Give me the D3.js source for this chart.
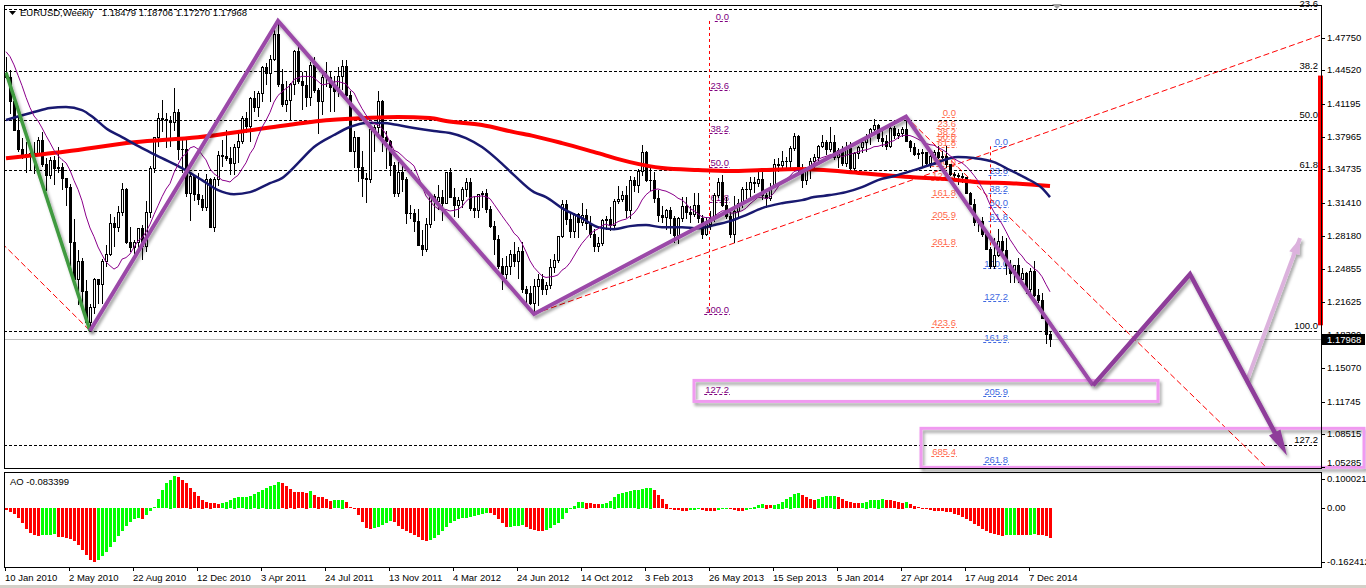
<!DOCTYPE html>
<html><head><meta charset="utf-8">
<script src="https://cdn.jsdelivr.net/npm/d3@7"></script>
<style>body{margin:0;background:#fff}svg{display:block}text{font-family:"Liberation Sans",Arial,sans-serif;font-size:9.5px}</style>
</head><body><svg id="c" width="1366" height="588"></svg>
<script>
// ---------------- DATA ----------------
const symbolTitle = "EURUSD,Weekly";
const weekOpen = [1.4410,1.4382,1.4145,1.3865,1.3675,1.3625,1.3610,1.3630,1.3625,1.3765,
1.3530,1.3415,1.3565,1.3490,1.3495,1.3390,1.3295,1.2755,1.2390,1.2570,
1.2270,1.1965,1.2110,1.2385,1.2340,1.2565,1.2640,1.2940,1.2900,1.3050,
1.3280,1.2750,1.2705,1.2750,1.2890,1.2710,1.3050,1.3490,1.3790,1.3980,
1.3970,1.3960,1.3940,1.4035,1.3675,1.3670,1.3240,1.3410,1.3225,1.3180,
1.3105,1.3380,1.2905,1.3380,1.3615,1.3605,1.3585,1.3535,1.3695,1.3750,
1.3985,1.3905,1.4180,1.4090,1.4230,1.4485,1.4430,1.4565,1.4810,1.4315,
1.4120,1.4155,1.4320,1.4640,1.4350,1.4305,1.4190,1.4505,1.4260,1.4150,
1.4390,1.4390,1.4285,1.4245,1.4395,1.4490,1.4205,1.3655,1.3790,1.3500,
1.3390,1.3380,1.3870,1.3890,1.4150,1.3790,1.3750,1.3520,1.3240,1.3445,
1.3380,1.3040,1.3045,1.2960,1.2720,1.2680,1.2930,1.3210,1.3160,1.3195,
1.3140,1.3445,1.3200,1.3120,1.3170,1.3275,1.3345,1.3095,1.3075,1.3225,
1.3240,1.3085,1.2915,1.2780,1.2515,1.2435,1.2515,1.2640,1.2570,1.2665,
1.2290,1.2245,1.2155,1.2315,1.2385,1.2290,1.2330,1.2510,1.2575,1.2815,
1.3130,1.2980,1.2860,1.3035,1.2955,1.3025,1.2940,1.2835,1.2710,1.2740,
1.2975,1.2985,1.2925,1.3160,1.3180,1.3215,1.3070,1.3365,1.3315,1.3460,
1.3640,1.3365,1.3365,1.3190,1.3020,1.3005,1.3075,1.2990,1.2820,1.2995,
1.3110,1.3050,1.3030,1.3115,1.2990,1.2835,1.2930,1.2995,1.3220,1.3345,
1.3120,1.3010,1.2830,1.3065,1.3140,1.3280,1.3280,1.3345,1.3335,1.3380,
1.3220,1.3185,1.3300,1.3525,1.3520,1.3555,1.3555,1.3685,1.3805,1.3485,
1.3365,1.3500,1.3555,1.3590,1.3705,1.3740,1.3675,1.3740,1.3590,1.3665,
1.3540,1.3680,1.3485,1.3635,1.3695,1.3740,1.3805,1.3875,1.3910,1.3780,
1.3750,1.3705,1.3885,1.3810,1.3835,1.3870,1.3755,1.3695,1.3625,1.3635,
1.3640,1.3540,1.3600,1.3645,1.3590,1.3605,1.3525,1.3430,1.3415,1.3410,
1.3400,1.3240,1.3130,1.2950,1.2960,1.2830,1.2685,1.2515,1.2630,1.2760,
1.2670,1.2525,1.2450,1.2525,1.2390,1.2450,1.2290,1.2465,1.2225,1.2185,
1.2000,1.18479];
const weekHigh = [1.4580,1.4455,1.4220,1.4000,1.3785,1.3740,1.3690,1.3740,1.3790,1.3840,
1.3580,1.3590,1.3600,1.3690,1.3535,1.3390,1.3330,1.2980,1.2670,1.2600,
1.2380,1.2140,1.2400,1.2390,1.2590,1.2720,1.3030,1.3000,1.3110,1.3335,
1.3290,1.2900,1.2770,1.2890,1.2920,1.3160,1.3510,1.3790,1.4030,1.4160,
1.4030,1.4000,1.4282,1.4070,1.3790,1.3790,1.3450,1.3420,1.3440,1.3220,
1.3430,1.3390,1.3395,1.3650,1.3760,1.3860,1.3690,1.3720,1.3830,1.4000,
1.4035,1.4190,1.4250,1.4250,1.4490,1.4520,1.4600,1.4880,1.4940,1.4465,
1.4345,1.4330,1.4650,1.4700,1.4440,1.4440,1.4530,1.4580,1.4280,1.4440,
1.4530,1.4450,1.4400,1.4480,1.4550,1.4550,1.4250,1.3850,1.3790,1.3650,
1.3440,1.3900,1.3915,1.4247,1.4160,1.3850,1.3760,1.3550,1.3550,1.3550,
1.3400,1.3120,1.3080,1.3080,1.2870,1.2990,1.3230,1.3230,1.3320,1.3270,
1.3450,1.3485,1.3290,1.3200,1.3300,1.3385,1.3385,1.3210,1.3225,1.3260,
1.3280,1.3110,1.2960,1.2820,1.2600,1.2620,1.2670,1.2750,1.2700,1.2750,
1.2320,1.2320,1.2390,1.2440,1.2440,1.2360,1.2590,1.2640,1.2815,1.3170,
1.3170,1.3050,1.3040,1.3040,1.3140,1.3080,1.3010,1.2880,1.2800,1.2980,
1.3010,1.3100,1.3175,1.3310,1.3260,1.3310,1.3405,1.3400,1.3480,1.3710,
1.3650,1.3485,1.3445,1.3270,1.3110,1.3080,1.3100,1.3010,1.3000,1.3200,
1.3200,1.3110,1.3240,1.3240,1.3020,1.3000,1.3060,1.3240,1.3390,1.3415,
1.3200,1.3090,1.3210,1.3180,1.3300,1.3350,1.3400,1.3400,1.3450,1.3450,
1.3240,1.3340,1.3570,1.3580,1.3650,1.3590,1.3700,1.3830,1.3810,1.3530,
1.3500,1.3580,1.3620,1.3710,1.3810,1.3760,1.3893,1.3815,1.3680,1.3700,
1.3740,1.3740,1.3640,1.3700,1.3770,1.3825,1.3880,1.3967,1.3925,1.3880,
1.3810,1.3905,1.3905,1.3870,1.3890,1.3993,1.3760,1.3735,1.3670,1.3670,
1.3645,1.3615,1.3660,1.3700,1.3650,1.3700,1.3530,1.3445,1.3440,1.3440,
1.3400,1.3250,1.3180,1.2990,1.3000,1.2870,1.2700,1.2790,1.2885,1.2810,
1.2790,1.2575,1.2530,1.2600,1.2500,1.2460,1.2500,1.2570,1.2290,1.2250,
1.2010,1.18706];
const weekLow = [1.4375,1.4030,1.3860,1.3650,1.3580,1.3443,1.3480,1.3435,1.3610,1.3505,
1.3266,1.3390,1.3330,1.3450,1.3280,1.3115,1.2523,1.2350,1.2145,1.2145,
1.1960,1.1876,1.2050,1.2150,1.2150,1.2520,1.2630,1.2710,1.2860,1.3020,
1.2740,1.2660,1.2590,1.2660,1.2590,1.2660,1.3000,1.3450,1.3700,1.3850,
1.3695,1.3700,1.3860,1.3570,1.3450,1.3210,1.2970,1.3170,1.3130,1.3070,
1.3070,1.2900,1.2860,1.3320,1.3510,1.3560,1.3430,1.3430,1.3550,1.3730,
1.3840,1.3750,1.4050,1.4000,1.4150,1.4320,1.4150,1.4550,1.4300,1.4100,
1.4050,1.3970,1.4220,1.4330,1.4070,1.4100,1.4110,1.4240,1.3835,1.4020,
1.4300,1.4050,1.4050,1.4200,1.4270,1.4180,1.3655,1.3495,1.3360,1.3210,
1.3145,1.3350,1.3650,1.3830,1.3650,1.3485,1.3420,1.3210,1.3210,1.3260,
1.2945,1.2990,1.2860,1.2720,1.2624,1.2660,1.2900,1.2975,1.3080,1.2975,
1.3140,1.3200,1.3010,1.3000,1.3100,1.3210,1.3070,1.3000,1.3000,1.3100,
1.3050,1.2900,1.2640,1.2495,1.2290,1.2400,1.2440,1.2520,1.2400,1.2260,
1.2160,1.2140,1.2042,1.2130,1.2240,1.2240,1.2300,1.2460,1.2560,1.2800,
1.2930,1.2800,1.2800,1.2800,1.2920,1.2880,1.2800,1.2660,1.2660,1.2720,
1.2880,1.2870,1.2880,1.3140,1.3160,1.3000,1.2995,1.3260,1.3250,1.3420,
1.3360,1.3270,1.3145,1.2960,1.2955,1.2880,1.2840,1.2750,1.2745,1.2960,
1.2995,1.2950,1.3010,1.2950,1.2795,1.2820,1.2880,1.2960,1.3200,1.3110,
1.2990,1.2805,1.2755,1.3010,1.3100,1.3190,1.3210,1.3250,1.3310,1.3180,
1.3100,1.3170,1.3300,1.3460,1.3480,1.3480,1.3490,1.3660,1.3460,1.3295,
1.3330,1.3390,1.3500,1.3540,1.3690,1.3625,1.3650,1.3570,1.3500,1.3520,
1.3510,1.3480,1.3475,1.3580,1.3640,1.3650,1.3720,1.3860,1.3750,1.3700,
1.3670,1.3690,1.3780,1.3780,1.3800,1.3750,1.3650,1.3615,1.3585,1.3500,
1.3520,1.3500,1.3580,1.3580,1.3580,1.3500,1.3420,1.3370,1.3330,1.3350,
1.3240,1.3125,1.2920,1.2860,1.2815,1.2680,1.2500,1.2500,1.2620,1.2610,
1.2440,1.2360,1.2360,1.2360,1.2390,1.2245,1.2245,1.2220,1.2165,1.2000,
1.1755,1.17270];
const weekClose = [1.4382,1.4145,1.3865,1.3675,1.3625,1.3610,1.3630,1.3625,1.3765,1.3530,
1.3415,1.3565,1.3490,1.3495,1.3390,1.3295,1.2755,1.2390,1.2570,1.2270,
1.1965,1.2110,1.2385,1.2340,1.2565,1.2640,1.2940,1.2900,1.3050,1.3280,
1.2750,1.2705,1.2750,1.2890,1.2710,1.3050,1.3490,1.3790,1.3980,1.3970,
1.3960,1.3940,1.4035,1.3675,1.3670,1.3240,1.3410,1.3225,1.3180,1.3105,
1.3380,1.2905,1.3380,1.3615,1.3605,1.3585,1.3535,1.3695,1.3750,1.3985,
1.3905,1.4180,1.4090,1.4230,1.4485,1.4430,1.4565,1.4810,1.4315,1.4120,
1.4155,1.4320,1.4640,1.4350,1.4305,1.4190,1.4505,1.4260,1.4150,1.4390,
1.4390,1.4285,1.4245,1.4395,1.4490,1.4205,1.3655,1.3790,1.3500,1.3390,
1.3380,1.3870,1.3890,1.4150,1.3790,1.3750,1.3520,1.3240,1.3445,1.3380,
1.3040,1.3045,1.2960,1.2720,1.2680,1.2930,1.3210,1.3160,1.3195,1.3140,
1.3445,1.3200,1.3120,1.3170,1.3275,1.3345,1.3095,1.3075,1.3225,1.3240,
1.3085,1.2915,1.2780,1.2515,1.2435,1.2515,1.2640,1.2570,1.2665,1.2290,
1.2245,1.2155,1.2315,1.2385,1.2290,1.2330,1.2510,1.2575,1.2815,1.3130,
1.2980,1.2860,1.3035,1.2955,1.3025,1.2940,1.2835,1.2710,1.2740,1.2975,
1.2985,1.2925,1.3160,1.3180,1.3215,1.3070,1.3365,1.3315,1.3460,1.3640,
1.3365,1.3365,1.3190,1.3020,1.3005,1.3075,1.2990,1.2820,1.2995,1.3110,
1.3050,1.3030,1.3115,1.2990,1.2835,1.2930,1.2995,1.3220,1.3345,1.3120,
1.3010,1.2830,1.3065,1.3140,1.3280,1.3280,1.3345,1.3335,1.3380,1.3220,
1.3185,1.3300,1.3525,1.3520,1.3555,1.3555,1.3685,1.3805,1.3485,1.3365,
1.3500,1.3555,1.3590,1.3705,1.3740,1.3675,1.3740,1.3590,1.3665,1.3540,
1.3680,1.3485,1.3635,1.3695,1.3740,1.3805,1.3875,1.3910,1.3780,1.3750,
1.3705,1.3885,1.3810,1.3835,1.3870,1.3755,1.3695,1.3625,1.3635,1.3640,
1.3540,1.3600,1.3645,1.3590,1.3605,1.3525,1.3430,1.3415,1.3410,1.3400,
1.3240,1.3130,1.2950,1.2960,1.2830,1.2685,1.2515,1.2630,1.2760,1.2670,
1.2525,1.2450,1.2525,1.2390,1.2450,1.2290,1.2465,1.2225,1.2185,1.2000,
1.1840,1.17968];
// closes of the 11 weeks before the first visible bar (warm-up for the 12-week SMA)
const closesBefore = [1.4720,1.4855,1.4905,1.4860,1.4995,1.4850,1.4620,1.4340,1.4370,1.4325,1.4410];
const smaPeriod = 12;

// slow moving averages (week index, price)
const navyWeek = [0,7,11,15,19,22,25,29,34,39,44,49,53,57,61,66,69,73,77,82,86,90,94,98,102,107,111,115,119,123,127,132,135,139,144,148,152,156,160,164,169,173,177,181,185,189,194,199,202,206,210,214,218,222,227,231,238,242,247,251,255,259,261];
const navyPrice = [1.3960,1.4039,1.4079,1.4089,1.4059,1.3980,1.3880,1.3792,1.3683,1.3584,1.3485,1.3366,1.3267,1.3227,1.3247,1.3336,1.3386,1.3534,1.3693,1.3812,1.3891,1.3931,1.3931,1.3911,1.3881,1.3851,1.3832,1.3782,1.3693,1.3564,1.3416,1.3247,1.3198,1.3089,1.2990,1.2901,1.2881,1.2911,1.2921,1.2901,1.2901,1.2891,1.2921,1.2960,1.3020,1.3089,1.3138,1.3168,1.3198,1.3218,1.3247,1.3297,1.3366,1.3406,1.3465,1.3515,1.3594,1.3584,1.3544,1.3465,1.3386,1.3287,1.3198];
const redWeek = [0,15,32,48,65,81,90,98,106,110,119,127,132,139,148,156,164,173,181,189,198,214,226,235,243,251,261];
const redPrice = [1.3583,1.3650,1.3740,1.3790,1.3881,1.3960,1.3980,1.3990,1.3980,1.3950,1.3911,1.3841,1.3801,1.3732,1.3633,1.3544,1.3485,1.3465,1.3455,1.3465,1.3475,1.3435,1.3396,1.3376,1.3346,1.3336,1.3307];

// Awesome Oscillator
const aoValues = [-0.0064,-0.0110,-0.0165,-0.0275,-0.0403,-0.0569,-0.0679,-0.0752,-0.0761,-0.0752,
-0.0743,-0.0734,-0.0724,-0.0789,-0.0807,-0.0816,-0.0844,-0.0899,-0.1027,-0.1165,
-0.1302,-0.1431,-0.1504,-0.1449,-0.1330,-0.1210,-0.1082,-0.0945,-0.0779,-0.0624,
-0.0504,-0.0385,-0.0293,-0.0266,-0.0293,-0.0202,-0.0073,0.0037,0.0257,0.0504,
0.0688,0.0789,0.0880,0.0862,0.0779,0.0688,0.0569,0.0440,0.0330,0.0238,
0.0174,0.0156,0.0138,0.0110,0.0138,0.0183,0.0229,0.0293,0.0303,0.0312,
0.0321,0.0348,0.0394,0.0459,0.0504,0.0569,0.0624,0.0651,0.0734,0.0697,
0.0624,0.0532,0.0459,0.0449,0.0440,0.0431,0.0468,0.0358,0.0321,0.0303,
0.0257,0.0211,0.0220,0.0229,0.0238,0.0165,0.0037,-0.0018,-0.0202,-0.0385,
-0.0550,-0.0587,-0.0559,-0.0514,-0.0459,-0.0403,-0.0348,-0.0385,-0.0504,-0.0569,
-0.0642,-0.0697,-0.0752,-0.0807,-0.0871,-0.0899,-0.0880,-0.0825,-0.0734,-0.0624,
-0.0523,-0.0413,-0.0348,-0.0293,-0.0275,-0.0266,-0.0248,-0.0229,-0.0202,-0.0165,
-0.0128,-0.0147,-0.0202,-0.0293,-0.0413,-0.0532,-0.0514,-0.0504,-0.0486,-0.0477,
-0.0532,-0.0578,-0.0614,-0.0624,-0.0633,-0.0596,-0.0550,-0.0477,-0.0413,-0.0303,
-0.0138,-0.0037,0.0073,0.0165,0.0174,0.0156,0.0147,0.0119,0.0110,0.0119,
0.0147,0.0202,0.0321,0.0385,0.0422,0.0449,0.0477,0.0495,0.0514,0.0532,
0.0550,0.0569,0.0504,0.0367,0.0248,0.0128,0.0018,-0.0046,-0.0064,-0.0073,
-0.0083,-0.0064,-0.0046,-0.0018,-0.0046,-0.0073,-0.0083,-0.0092,-0.0055,-0.0028,
-0.0009,-0.0018,-0.0055,-0.0083,-0.0092,-0.0055,-0.0018,0.0046,0.0092,0.0110,
0.0101,0.0092,0.0101,0.0128,0.0183,0.0257,0.0321,0.0385,0.0413,0.0367,
0.0312,0.0257,0.0238,0.0257,0.0303,0.0330,0.0339,0.0348,0.0321,0.0257,
0.0202,0.0165,0.0147,0.0138,0.0147,0.0183,0.0220,0.0229,0.0238,0.0243,
0.0229,0.0220,0.0202,0.0183,0.0156,0.0160,0.0110,0.0073,0.0028,-0.0009,
-0.0037,-0.0055,-0.0073,-0.0083,-0.0092,-0.0101,-0.0119,-0.0165,-0.0202,-0.0248,
-0.0303,-0.0367,-0.0440,-0.0504,-0.0578,-0.0642,-0.0697,-0.0724,-0.0734,-0.0761,
-0.0752,-0.0743,-0.0734,-0.0740,-0.0748,-0.0752,-0.0740,-0.0728,-0.0734,-0.0752,
-0.0780,-0.083399];
const aoAxisTicks = [0.100021, 0, -0.162412];
const aoAxisLabels = ["0.100021", "0.00", "-0.162412"];

// axes
const priceTicks = [1.47750,1.44520,1.41195,1.37965,1.34735,1.31410,1.28180,1.24855,1.21625,1.18300,1.15070,1.11745,1.08515,1.05285];
const dateTickWeeks = [0,16,32,48,64,80,96,112,128,144,160,176,192,208,224,240,256];
const dateTickLabels = ["10 Jan 2010","2 May 2010","22 Aug 2010","12 Dec 2010","3 Apr 2011","24 Jul 2011","13 Nov 2011","4 Mar 2012","24 Jun 2012","14 Oct 2012","3 Feb 2013","26 May 2013","15 Sep 2013","5 Jan 2014","27 Apr 2014","17 Aug 2014","7 Dec 2014"];

// Fibonacci tools
const mainFibHigh = 1.6038, mainFibLow = 1.1876;
const mainFibLevels = [0, 23.6, 38.2, 50, 61.8, 100, 127.2];
const purpleFibHigh = 1.4940, purpleFibLow = 1.2042, purpleFibWeek = 175.75;
const purpleFibLevels = [0, 23.6, 38.2, 50, 61.8, 100, 127.2];
const orangeFibHigh = 1.3993, orangeFibLow = 1.3503;
const orangeFibLevels = [0, 23.6, 38.2, 50, 61.8, 100, 127.2, 161.8, 205.9, 261.8, 423.6, 685.4];
const blueFibHigh = 1.3700, blueFibLow = 1.2501, blueFibWeek = 246;
const blueFibLevels = [0, 23.6, 38.2, 50, 61.8, 100, 127.2, 161.8, 205.9, 261.8];

// drawn objects (week index, price)
const zigWeek = [21, 68, 132, 225, 271.75, 296, 320.25];
const zigPrice = [1.1876, 1.4940, 1.2042, 1.3993, 1.1336, 1.2435, 1.0643];
const greenWeek = [0, 21];
const greenPrice = [1.4430, 1.1876];
const pinkArrowWeek = [310.25, 323.5];
const pinkArrowPrice = [1.1385, 1.2792];
const boxWeeks = [[172, 288], [228.75, 339.5]];
const boxPrices = [[1.1385, 1.1177], [1.0911, 1.0525]];
const trendA = {w: [132, 330], p: [1.2042, 1.4818]};
const trendB = {w: [-1, 21], p: [1.2741, 1.1876]};
const trendC = {w: [225, 322], p: [1.3993, 1.0258]};
const rangeBarPrices = [1.4400, 1.1930];

// ---------------- CHART ----------------
const svg = d3.select('#c');
const plotL = 4, plotR = 1321, mainT = 5, mainB = 468, aoT = 472, aoB = 567;
const x = d3.scaleLinear().domain([0, 329]).range([6, 6 + 4 * 329]);
const y = d3.scaleLinear().domain([1.05285, 1.5098]).range([467, 5]);
const ya = d3.scaleLinear().domain([-0.162412, 0.100021]).range([567, 472]);

svg.append('rect').attr('width', 1366).attr('height', 588).attr('fill', '#fff');
const defs = svg.append('defs');
defs.append('clipPath').attr('id', 'cm').append('rect').attr('x', plotL).attr('y', mainT).attr('width', plotR - plotL).attr('height', mainB - mainT);
defs.append('clipPath').attr('id', 'ca').append('rect').attr('x', plotL).attr('y', aoT).attr('width', plotR - plotL).attr('height', aoB - aoT);
const f = defs.append('filter').attr('id', 'sh').attr('filterUnits', 'userSpaceOnUse').attr('x', 0).attr('y', 0).attr('width', 1366).attr('height', 588);
f.append('feDropShadow').attr('dx', 2).attr('dy', 3).attr('stdDeviation', 1.6).attr('flood-color', '#000').attr('flood-opacity', 0.35);

const main = svg.append('g').attr('clip-path', 'url(#cm)');

// main fib (full width dashed black)
mainFibLevels.forEach(l => {
  const yy = Math.round(y(mainFibHigh - (mainFibHigh - mainFibLow) * l / 100)) + 0.5;
  main.append('line').attr('x1', plotL).attr('x2', plotR - 3).attr('y1', yy).attr('y2', yy)
    .attr('stroke', '#000').attr('stroke-dasharray', '3,2');
});

// small fib tools: labels with dashed underline
function fibTool(hi, lo, levels, rightX, color) {
  levels.forEach(l => {
    const yy = Math.round(y(hi - (hi - lo) * l / 100)) + 0.5;
    const t = main.append('text').attr('x', rightX).attr('y', yy - 2).attr('text-anchor', 'end')
      .attr('fill', color).text(l.toFixed(1));
    const w = t.node().getComputedTextLength();
    main.append('line').attr('x1', rightX - w - 1).attr('x2', rightX + 1).attr('y1', yy).attr('y2', yy)
      .attr('stroke', color).attr('stroke-dasharray', '3,2');
  });
}
fibTool(purpleFibHigh, purpleFibLow, purpleFibLevels, 729, '#800080');
fibTool(orangeFibHigh, orangeFibLow, orangeFibLevels, 956, '#ff6a4d');
fibTool(blueFibHigh, blueFibLow, blueFibLevels, 1008, '#4169e1');
// fib base lines (red dashed)
[[purpleFibWeek, purpleFibHigh, purpleFibLow], [blueFibWeek, blueFibHigh, blueFibLow]].forEach(d => {
  const xx = Math.round(x(d[0])) + 0.5;
  main.append('line').attr('x1', xx).attr('x2', xx).attr('y1', y(d[1])).attr('y2', y(d[2]))
    .attr('stroke', '#ff0000').attr('stroke-dasharray', '3,3');
});

// current price line
const lastClose = weekClose[weekClose.length - 1];
main.append('line').attr('x1', plotL).attr('x2', plotR).attr('y1', Math.round(y(lastClose)) + 0.5).attr('y2', Math.round(y(lastClose)) + 0.5)
  .attr('stroke', '#c0c0c0');

// red dashed trendlines
[trendA, trendB, trendC].forEach(t => {
  main.append('line').attr('x1', x(t.w[0])).attr('y1', y(t.p[0])).attr('x2', x(t.w[1])).attr('y2', y(t.p[1]))
    .attr('stroke', '#ff0000').attr('stroke-width', 1).attr('stroke-dasharray', '6,3');
});

// candles
const cg = main.append('g').attr('shape-rendering', 'crispEdges');
weekClose.forEach((c, i) => {
  const o = weekOpen[i], h = weekHigh[i], l = weekLow[i];
  const cx = Math.round(x(i));
  const yh = Math.round(y(h)), yl = Math.round(y(l));
  cg.append('rect').attr('x', cx).attr('y', yh).attr('width', 1).attr('height', Math.max(1, yl - yh + 1)).attr('fill', '#000');
  const top = Math.round(y(Math.max(o, c))), bot = Math.round(y(Math.min(o, c)));
  const hg = Math.max(0, bot - top);
  cg.append('rect').attr('x', cx - 1).attr('y', top).attr('width', 3).attr('height', hg + 1).attr('fill', '#000');
  if (c > o && hg > 1) cg.append('rect').attr('x', cx).attr('y', top + 1).attr('width', 1).attr('height', hg - 1).attr('fill', '#fff');
});

// moving averages
const allCloses = closesBefore.concat(weekClose);
const smaVals = weekClose.map((c, i) => d3.mean(allCloses.slice(i + closesBefore.length + 1 - smaPeriod, i + closesBefore.length + 1)));
const lineP = d3.line().x(d => x(d[0])).y(d => y(d[1])).curve(d3.curveMonotoneX);
main.append('path').attr('d', lineP(redWeek.map((w, i) => [w, redPrice[i]]))).attr('fill', 'none').attr('stroke', '#ff0000').attr('stroke-width', 4);
main.append('path').attr('d', lineP(navyWeek.map((w, i) => [w, navyPrice[i]]))).attr('fill', 'none').attr('stroke', '#191970').attr('stroke-width', 2.5);
main.append('path').attr('d', d3.line().x(d => x(d[0])).y(d => y(d[1]))(smaVals.map((v, i) => [i, v]))).attr('fill', 'none').attr('stroke', '#8b008b').attr('stroke-width', 1);

// boxes
const objs = svg.append('g');
boxWeeks.forEach((bw, i) => {
  const x0 = x(bw[0]), x1 = x(bw[1]), y0 = y(boxPrices[i][0]), y1 = y(boxPrices[i][1]);
  objs.append('rect').attr('x', x0).attr('y', y0).attr('width', x1 - x0).attr('height', y1 - y0)
    .attr('fill', 'none').attr('stroke', '#f09af0').attr('stroke-width', 3).attr('filter', 'url(#sh)');
});

function arrowHead(g, x1, y1, x2, y2, len, wid, color) {
  const a = Math.atan2(y2 - y1, x2 - x1);
  const bx = x2 - len * Math.cos(a), by = y2 - len * Math.sin(a);
  const px = -Math.sin(a) * wid / 2, py = Math.cos(a) * wid / 2;
  g.append('path').attr('d', `M${x2},${y2}L${bx + px},${by + py}L${bx - px},${by - py}Z`).attr('fill', color);
}

// pink arrow
const pax = pinkArrowWeek.map(x), pay = pinkArrowPrice.map(y);
const pg = objs.append('g').attr('filter', 'url(#sh)');
pg.append('line').attr('x1', pax[0]).attr('y1', pay[0]).attr('x2', pax[1]).attr('y2', pay[1]).attr('stroke', '#dcb2dd').attr('stroke-width', 4);
arrowHead(pg, pax[0], pay[0], pax[1], pay[1], 16, 11, '#dcb2dd');

// green leg
objs.append('path').attr('d', d3.line()(greenWeek.map((w, i) => [x(w), y(greenPrice[i])])))
  .attr('fill', 'none').attr('stroke', '#3f9a3f').attr('stroke-width', 3.5).attr('filter', 'url(#sh)');
// purple zigzag + arrow
const zg = objs.append('g').attr('filter', 'url(#sh)');
const zpts = zigWeek.map((w, i) => [x(w), y(zigPrice[i])]);
zg.append('path').attr('d', d3.line()(zpts.slice(0, 5))).attr('fill', 'none').attr('stroke', '#9b4aa8').attr('stroke-width', 4).attr('stroke-linejoin', 'miter');
const n = zpts.length;
const endA = Math.atan2(zpts[n-1][1]-zpts[n-2][1], zpts[n-1][0]-zpts[n-2][0]);
zg.append('path').attr('d', d3.line()(zpts.slice(4, n - 1).concat([[zpts[n-1][0] - 10*Math.cos(endA), zpts[n-1][1] - 10*Math.sin(endA)]])))
  .attr('fill', 'none').attr('stroke', '#8e3c9a').attr('stroke-width', 4.5);
arrowHead(zg, zpts[n-2][0], zpts[n-2][1], zpts[n-1][0], zpts[n-1][1], 26, 13, '#8e3c9a');

// black fib labels on right
mainFibLevels.forEach(l => {
  const yy = Math.round(y(mainFibHigh - (mainFibHigh - mainFibLow) * l / 100));
  svg.append('text').attr('x', 1318).attr('y', yy - 2).attr('text-anchor', 'end').attr('fill', '#000').text(l.toFixed(1));
});

// red range bar on the right edge
svg.append('rect').attr('x', 1318).attr('y', y(rangeBarPrices[0])).attr('width', 5).attr('height', y(rangeBarPrices[1]) - y(rangeBarPrices[0])).attr('fill', '#ff0000');

// AO histogram
const ao = svg.append('g').attr('clip-path', 'url(#ca)').attr('shape-rendering', 'crispEdges');
aoValues.forEach((v, i) => {
  const up = i > 0 && v > aoValues[i - 1];
  const y0 = ya(0), y1 = ya(v);
  ao.append('rect').attr('x', Math.round(x(i)) - 1).attr('width', 3)
    .attr('y', Math.round(Math.min(y0, y1))).attr('height', Math.max(1, Math.round(Math.abs(y1 - y0))))
    .attr('fill', up ? '#00ff00' : '#ff0000');
});

// frames
const fr = svg.append('g').attr('shape-rendering', 'crispEdges').attr('fill', 'none').attr('stroke', '#000');
fr.append('rect').attr('x', plotL + 0.5).attr('y', mainT + 0.5).attr('width', plotR - plotL).attr('height', mainB - mainT);
fr.append('rect').attr('x', plotL + 0.5).attr('y', aoT + 0.5).attr('width', plotR - plotL).attr('height', aoB - aoT);
svg.append('line').attr('x1', 0).attr('x2', 1366).attr('y1', 586.5).attr('y2', 586.5).attr('stroke', '#d4d0c8').attr('stroke-width', 3);

// price axis
priceTicks.forEach(v => {
  const yy = Math.round(y(v));
  svg.append('line').attr('x1', plotR).attr('x2', plotR + 4).attr('y1', yy + 0.5).attr('y2', yy + 0.5).attr('stroke', '#000');
  svg.append('text').attr('x', 1327).attr('y', Math.min(yy, 463) + 3).attr('fill', '#000').text(v.toFixed(5));
});
// current price tag
const ty = Math.round(y(lastClose));
svg.append('rect').attr('x', 1322).attr('y', ty - 5).attr('width', 43).attr('height', 11).attr('fill', '#000');
svg.append('text').attr('x', 1327).attr('y', ty + 4).attr('fill', '#fff').text(lastClose.toFixed(5));

// AO axis
aoAxisTicks.forEach((v, i) => {
  const yy = Math.round(ya(v));
  const ly = Math.max(aoT + 7, Math.min(aoB - 5, yy));
  svg.append('line').attr('x1', plotR).attr('x2', plotR + 4).attr('y1', ly + 0.5).attr('y2', ly + 0.5).attr('stroke', '#000');
  svg.append('text').attr('x', 1327).attr('y', ly + 3).attr('fill', '#000').text(aoAxisLabels[i]);
});

// date axis
dateTickWeeks.forEach((w, i) => {
  const xx = Math.round(x(w)) - 1;
  svg.append('line').attr('x1', xx + 0.5).attr('x2', xx + 0.5).attr('y1', aoB).attr('y2', aoB + 4).attr('stroke', '#000');
  svg.append('text').attr('x', xx).attr('y', 581).attr('fill', '#000').text(dateTickLabels[i]);
});

// headers
svg.append('path').attr('d', 'M9,11L16,11L12.5,15Z').attr('fill', '#000');
const nL = weekClose.length - 1;
const title = svg.append('text').attr('x', 20).attr('y', 16).attr('fill', '#000').style('font-size', '9.5px').text(symbolTitle);
const tw = title.node().getComputedTextLength();
svg.append('text').attr('x', 20 + tw + 8).attr('y', 16).attr('fill', '#000').style('font-size', '9.5px')
  .text([weekOpen[nL], weekHigh[nL], weekLow[nL], weekClose[nL]].map(v => v.toFixed(5)).join(' '));
svg.append('text').attr('x', 10).attr('y', 485).attr('fill', '#000').text('AO ' + aoValues[aoValues.length - 1].toFixed(6));
// chart shift marker
svg.append('path').attr('d', 'M1052,4L1062,4L1057,9Z').attr('fill', '#a0a0a0');
</script></body></html>
